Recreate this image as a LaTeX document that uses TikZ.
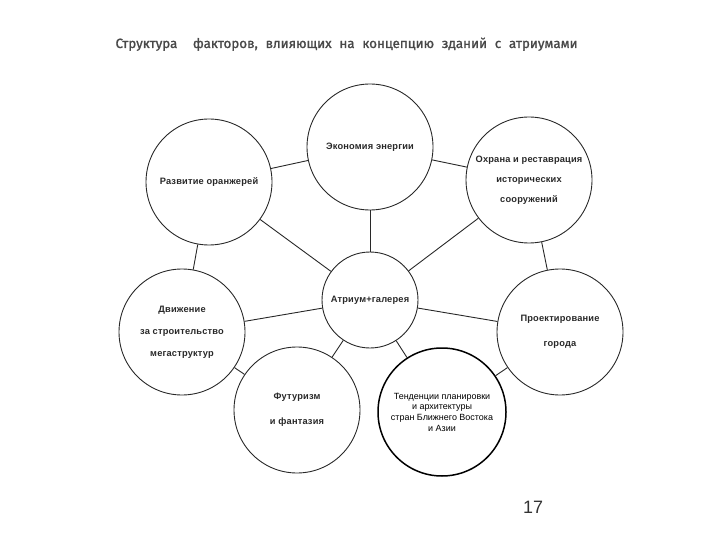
\documentclass[tikz,border=0pt]{standalone}
\usepackage{fontspec}
\setmainfont{Liberation Sans}
\newfontfamily\titlefont[WordSpace=2.2,FakeBold=1.3]{Fira Sans}
\newfontfamily\bubblefont[LetterSpace=2,BoldFont={Liberation Sans Bold}]{Liberation Sans}
\usetikzlibrary{positioning}
\definecolor{ink}{RGB}{40,40,40}

\begin{document}
\begin{tikzpicture}[x=1bp,y=-1bp,
  bubble/.style={circle,draw=ink,line width=0.9bp,minimum size=126bp,inner sep=0pt,
    align=center,text=ink,font=\bubblefont\bfseries\fontsize{9.3}{20}\selectfont},
  link/.style={draw=ink,line width=0.9bp}]
\useasboundingbox (0,0) rectangle (720,540);

\node[anchor=base west,text=ink!85,font=\titlefont\fontsize{13.4}{16}\selectfont] (title) at (112,48)
  {Структура\ \ факторов, влияющих на концепцию зданий с атриумами};

\node[bubble,minimum size=96bp] (atr) at (370,300) {Атриум+галерея};
\node[bubble] (eco) at (370,147) {Экономия энергии};
\node[bubble] (oran) at (209,182) {Развитие оранжерей};
\node[bubble] (ohr) at (529,180) {Охрана и реставрация\\исторических\\сооружений};
\node[bubble,font=\bubblefont\bfseries\fontsize{9.3}{22}\selectfont] (mega) at (182,332) {Движение\\за строительство\\мегаструктур};
\node[bubble,font=\bubblefont\bfseries\fontsize{9.3}{25}\selectfont] (proj) at (560,332) {Проектирование\\города};
\node[bubble,font=\bubblefont\bfseries\fontsize{9.3}{25}\selectfont] (fut) at (297,410) {Футуризм\\и фантазия};
\node[bubble,draw=black,line width=1.5bp,text=black,minimum size=128bp,
  font=\fontsize{9}{10.7}\selectfont] (vost) at (442,412)
  {Тенденции планировки\\и архитектуры\\стран Ближнего Востока\\и Азии};

\draw[link] (atr) -- (eco);
\draw[link] (atr) -- (oran);
\draw[link] (atr) -- (ohr);
\draw[link] (atr) -- (mega);
\draw[link] (atr) -- (proj);
\draw[link] (atr) -- (fut);
\draw[link] (atr) -- (vost);
\draw[link] (eco) -- (oran);
\draw[link] (eco) -- (ohr);
\draw[link] (oran) -- (mega);
\draw[link] (ohr) -- (proj);
\draw[link] (mega) -- (fut);
\draw[link] (proj) -- (vost);

\node[text=black!80,font=\fontsize{18}{18}\selectfont] (page) at (533,507) {17};
\end{tikzpicture}
\end{document}
